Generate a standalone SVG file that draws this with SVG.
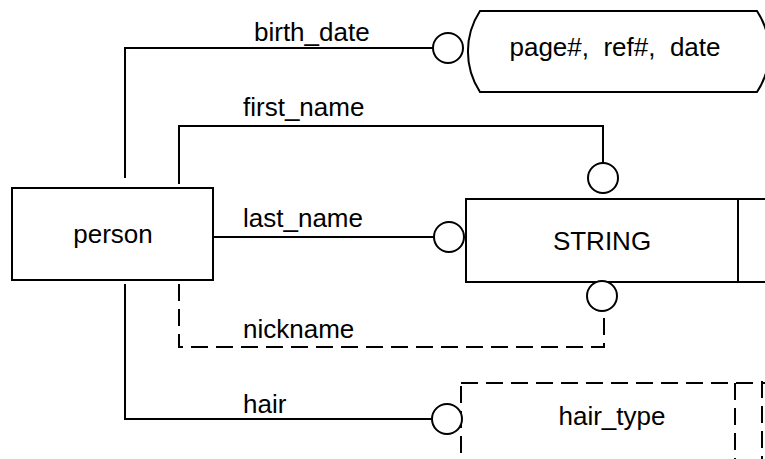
<svg xmlns="http://www.w3.org/2000/svg" width="765" height="459" viewBox="0 0 765 459">
  <style>
    .ln { fill: none; stroke: #000; stroke-width: 2; }
    .dash { stroke-dasharray: 17 8; }
    .box { fill: #fff; stroke: #000; stroke-width: 2; }
    .ring { fill: #fff; stroke: #000; stroke-width: 2; }
    .lbl { font-family: "Liberation Sans", Arial, sans-serif; font-size: 26px; fill: #000; }
    .mid { text-anchor: middle; }
  </style>
  <rect width="765" height="459" fill="#fff"/>

  <!-- relationship lines -->
  <g id="connectors">
    <polyline class="ln" points="125,178 125,48 433,48"/>
    <polyline class="ln" points="179,184 179,126 603,126 603,163"/>
    <line class="ln" x1="213" y1="237" x2="434" y2="237"/>
    <polyline class="ln dash" points="179,284 179,347 604,347 604,311"/>
    <polyline class="ln" points="125,284 125,419 432,419"/>
    <text class="lbl" x="254" y="41">birth_date</text>
    <text class="lbl" x="243" y="116">first_name</text>
    <text class="lbl" x="243" y="227">last_name</text>
    <text class="lbl" x="243" y="338">nickname</text>
    <text class="lbl" x="243" y="413">hair</text>
  </g>

  <g id="person">
    <rect class="box" x="12" y="188" width="201" height="92"/>
    <text class="lbl mid" x="113" y="243">person</text>
  </g>

  <g id="source">
    <path class="box" d="M480,11 H757 A74,74 0 0 1 757,92 H480 A74,74 0 0 1 480,11 Z"/>
    <circle class="ring" cx="448" cy="48" r="15"/>
    <text class="lbl mid" x="615" y="56" xml:space="preserve">page#,  ref#,  date</text>
  </g>

  <g id="string">
    <rect class="box" x="466" y="199" width="320" height="83"/>
    <line class="ln" x1="738" y1="199" x2="738" y2="282"/>
    <circle class="ring" cx="603" cy="178" r="15"/>
    <circle class="ring" cx="449" cy="237" r="15"/>
    <circle class="ring" cx="602" cy="296" r="15"/>
    <text class="lbl mid" x="602" y="250">STRING</text>
  </g>

  <g id="hair_type">
    <rect class="ln dash" x="461" y="383" width="340" height="120"/>
    <line class="ln dash" x1="735" y1="383" x2="735" y2="459"/>
    <line class="ln dash" x1="762" y1="381" x2="762" y2="459"/>
    <circle class="ring" cx="447" cy="419" r="15"/>
    <text class="lbl mid" x="612" y="425">hair_type</text>
  </g>
</svg>
